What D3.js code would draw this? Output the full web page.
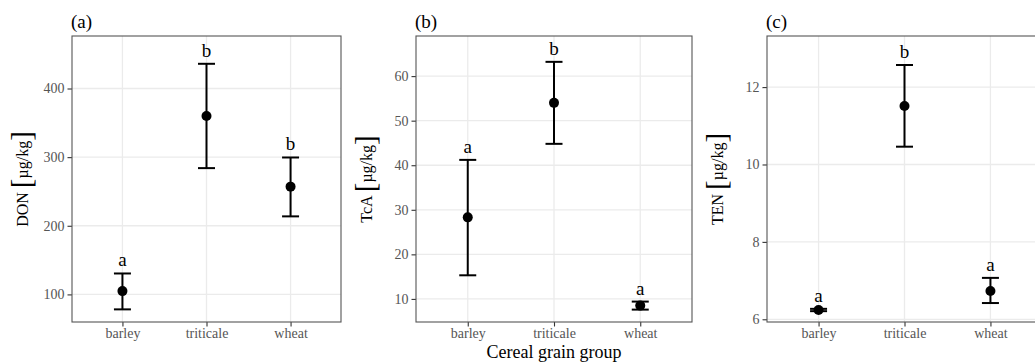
<!DOCTYPE html>
<html>
<head>
<meta charset="utf-8">
<script src="https://cdn.jsdelivr.net/npm/d3@7"></script>
<style>
  body { margin: 0; background: #fff; }
  svg { display: block; }
  text { font-family: "Liberation Serif", "Times New Roman", serif; }
</style>
</head>
<body>
<svg id="chart" width="1035" height="363"></svg>
<script>
const groups = ["barley", "triticale", "wheat"];

// DON
const donMean = [104.8, 360, 257];
const donLow = [78.2, 284, 213.7];
const donHigh = [130.5, 436, 299.5];
const donLetters = ["a", "b", "b"];
const donTicks = [100, 200, 300, 400];

// TcA
const tcaMean = [28.3, 54.0, 8.5];
const tcaLow = [15.3, 44.8, 7.6];
const tcaHigh = [41.2, 63.2, 9.4];
const tcaLetters = ["a", "b", "a"];
const tcaTicks = [10, 20, 30, 40, 50, 60];

// TEN
const tenMean = [6.24, 11.51, 6.73];
const tenLow = [6.21, 10.46, 6.42];
const tenHigh = [6.27, 12.57, 7.07];
const tenLetters = ["a", "b", "a"];
const tenTicks = [6, 8, 10, 12];

const panels = [
  { tag: "(a)", name: "DON", mean: donMean, low: donLow, high: donHigh, letters: donLetters, ticks: donTicks, domain: [59.8, 476.5], x0: 72, x1: 341 },
  { tag: "(b)", name: "TcA", mean: tcaMean, low: tcaLow, high: tcaHigh, letters: tcaLetters, ticks: tcaTicks, domain: [4.82, 69.0], x0: 416, x1: 692 },
  { tag: "(c)", name: "TEN", mean: tenMean, low: tenLow, high: tenHigh, letters: tenLetters, ticks: tenTicks, domain: [5.93, 13.32], x0: 767, x1: 1042 }
];

const plotTop = 36;
const plotBottom = 322;
const svg = d3.select("#chart");

panels.forEach((p) => {
  const g = svg.append("g");

  const x = d3.scalePoint().domain(groups).range([p.x0, p.x1]).padding(0.6);
  const y = d3.scaleLinear().domain(p.domain).range([plotBottom, plotTop]);

  const data = groups.map((k, i) => ({
    group: k, mean: p.mean[i], low: p.low[i], high: p.high[i], letter: p.letters[i]
  }));

  // grid
  g.append("g")
    .selectAll("line")
    .data(p.ticks)
    .join("line")
    .attr("x1", p.x0).attr("x2", p.x1)
    .attr("y1", (d) => y(d)).attr("y2", (d) => y(d))
    .attr("stroke", "#ebebeb").attr("stroke-width", 1.3);

  g.append("g")
    .selectAll("line")
    .data(groups)
    .join("line")
    .attr("x1", (d) => x(d)).attr("x2", (d) => x(d))
    .attr("y1", plotTop).attr("y2", plotBottom)
    .attr("stroke", "#ebebeb").attr("stroke-width", 1.3);

  // axes
  const yAxis = g.append("g")
    .attr("transform", `translate(${p.x0},0)`)
    .call(d3.axisLeft(y).tickValues(p.ticks).tickSize(4.5).tickPadding(3));
  const xAxis = g.append("g")
    .attr("transform", `translate(0,${plotBottom})`)
    .call(d3.axisBottom(x).tickSize(4.5).tickPadding(2));
  [yAxis, xAxis].forEach((a) => {
    a.select(".domain").remove();
    a.selectAll(".tick line").attr("stroke", "#333").attr("stroke-width", 1.1);
    a.selectAll(".tick text")
      .attr("fill", "#555")
      .style("font-size", "14px")
      .style("font-family", "'Liberation Serif', serif");
  });

  // panel border
  g.append("rect")
    .attr("x", p.x0).attr("y", plotTop)
    .attr("width", p.x1 - p.x0).attr("height", plotBottom - plotTop)
    .attr("fill", "none").attr("stroke", "#555").attr("stroke-width", 1.1);

  // error bars
  const eb = g.append("g").selectAll("g").data(data).join("g");
  eb.append("line")
    .attr("x1", (d) => x(d.group)).attr("x2", (d) => x(d.group))
    .attr("y1", (d) => y(d.low)).attr("y2", (d) => y(d.high))
    .attr("stroke", "#000").attr("stroke-width", 2);
  eb.append("line")
    .attr("x1", (d) => x(d.group) - 8.5).attr("x2", (d) => x(d.group) + 8.5)
    .attr("y1", (d) => y(d.high)).attr("y2", (d) => y(d.high))
    .attr("stroke", "#000").attr("stroke-width", 2);
  eb.append("line")
    .attr("x1", (d) => x(d.group) - 8.5).attr("x2", (d) => x(d.group) + 8.5)
    .attr("y1", (d) => y(d.low)).attr("y2", (d) => y(d.low))
    .attr("stroke", "#000").attr("stroke-width", 2);
  eb.append("circle")
    .attr("cx", (d) => x(d.group)).attr("cy", (d) => y(d.mean))
    .attr("r", 5).attr("fill", "#000");

  // significance letters
  g.append("g")
    .selectAll("text")
    .data(data)
    .join("text")
    .attr("x", (d) => x(d.group))
    .attr("y", (d) => y(d.high) - 7)
    .attr("text-anchor", "middle")
    .style("font-size", "19px")
    .attr("fill", "#000")
    .text((d) => d.letter);

  // panel tag
  g.append("text")
    .attr("x", p.x0 - 1)
    .attr("y", 28)
    .style("font-size", "19px")
    .text(p.tag);

  // y title
  const cy = (plotTop + plotBottom) / 2;
  const yt = g.append("text")
    .attr("transform", `translate(${p.x0 - 44},${cy}) rotate(-90)`)
    .attr("text-anchor", "middle")
    .style("font-size", "16px")
    .attr("fill", "#000");
  yt.append("tspan").text(p.name + " ");
  yt.append("tspan").style("font-size", "29px").attr("font-weight", 300).attr("dy", 3).text("[");
  yt.append("tspan").attr("dy", -3).text("µg/kg");
  yt.append("tspan").style("font-size", "29px").attr("font-weight", 300).attr("dy", 3).text("]");
});

// x title
const mid = panels[1];
svg.append("text")
  .attr("x", (mid.x0 + mid.x1) / 2)
  .attr("y", 358)
  .attr("text-anchor", "middle")
  .style("font-size", "18px")
  .text("Cereal grain group");
</script>
</body>
</html>
